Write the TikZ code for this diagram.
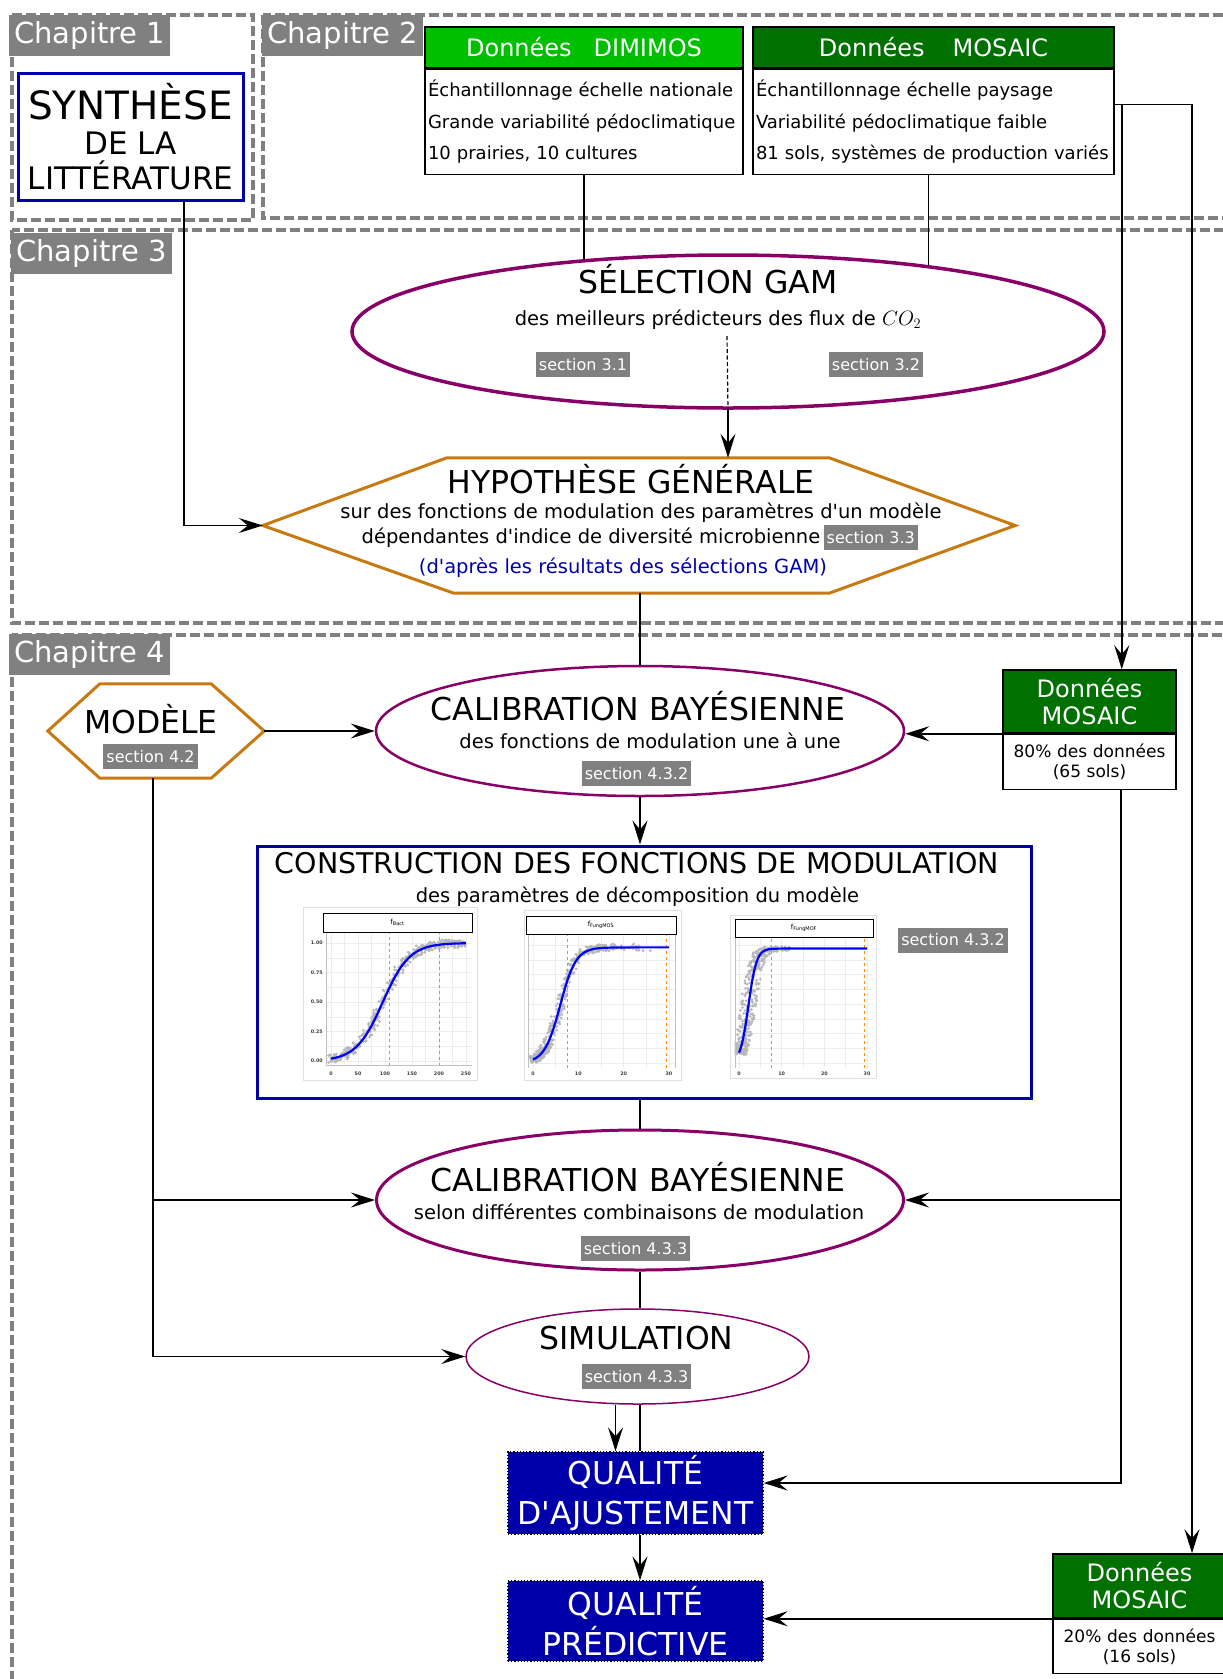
\documentclass[tikz,border=0pt]{standalone}
\usepackage{fontspec}
\setmainfont{DejaVu Sans}
\usepackage{tikz}
\usetikzlibrary{arrows.meta,positioning,shapes.geometric,calc,backgrounds}
\definecolor{cChap}{HTML}{808080}
\definecolor{cPurple}{HTML}{880066}
\definecolor{cHexa}{HTML}{C87A12}
\definecolor{cNavy}{HTML}{0000AA}
\definecolor{cGreenL}{HTML}{00BE00}
\definecolor{cGreenD}{HTML}{007000}
\definecolor{cCurve}{HTML}{0000FF}
\definecolor{cOrange}{HTML}{FF8C00}
\definecolor{cPoint}{HTML}{B8B8B8}
\newcommand{\fTitle}{\fontsize{31.5}{38}\selectfont}
\newcommand{\fBody}{\fontsize{19.5}{24}\selectfont}
\newcommand{\fData}{\fontsize{18}{31.5}\selectfont}
\newcommand{\fHead}{\fontsize{24}{27}\selectfont}
\newcommand{\fSec}{\fontsize{16}{19}\selectfont}
\newcommand{\fTick}{\fontsize{4.8}{5}\selectfont\bfseries}
\newcommand{\ap}{\textquotesingle}
\tikzset{
  chapframe/.style={draw=cChap, line width=4pt, dash pattern=on 10pt off 4pt},
  chaplab/.style ={fill=cChap, text=white, anchor=north west, font=\fontsize{29}{34}\selectfont,
                   inner xsep=5pt, minimum height=41pt},
  seclab/.style  ={fill=cChap, text=white, font=\fSec, inner xsep=3pt, inner ysep=0pt, minimum height=25pt},
  txt/.style     ={anchor=base, inner sep=0pt},
  ell/.style     ={draw=cPurple, ellipse, fill=white},
  hexline/.style ={draw=cHexa, line width=3pt, line join=miter},
  bluebox/.style ={draw=cNavy, line width=3pt, fill=white},
  datahead/.style={draw, line width=1.5pt, text=white, font=\fHead, minimum height=41pt, inner sep=0pt},
  databody/.style={draw, line width=1.5pt, fill=white, font=\fData, align=left, inner xsep=3pt,
                   inner ysep=0pt, minimum height=105pt},
  quality/.style ={draw, dotted, line width=1.2pt, fill=cNavy, text=white, align=center,
                   font=\fontsize{31.5}{40}\selectfont, minimum width=255pt, minimum height=80pt},
  conn/.style    ={line width=1.5pt},
  arrow/.style   ={-{Stealth[length=24pt,width=15pt,inset=9pt]}, line width=1.5pt},
  panel/.style   ={fill=white, draw=black!12, line width=0.6pt},
  strip/.style   ={draw, line width=0.8pt, fill=white, inner sep=0pt, font=\fontsize{7}{8}\selectfont},
  orangedash/.style={draw=cOrange, dashed, line width=0.9pt},
  gridl/.style   ={draw=black!7, line width=0.4pt},
  tick/.style    ={font=\fTick, text=black!75, inner sep=0pt},
}
\begin{document}
\begin{tikzpicture}[x=1pt, y=-1pt]
  \useasboundingbox (0,0) rectangle (1223,1679);
  % chapter labels
  \node[chaplab] (chap1) at (9,15) {Chapitre 1};
  \node[chaplab] (chap2) at (262,15) {Chapitre 2};
  \node[chaplab] (chap3) at (11,233) {Chapitre 3};
  \node[chaplab] (chap4) at (9,634) {Chapitre 4};
  % chapitre 1 et 2
  \node[bluebox, minimum width=225pt, minimum height=127pt, align=center,
        font=\fontsize{31}{35}\selectfont] (synth) at (130.5,136.5)
        {{\fontsize{39}{35}\selectfont SYNTHÈSE}\\DE LA\\LITTÉRATURE};
  \node[datahead, fill=cGreenL, minimum width=318pt] (dimh) at (584,47.5) {Données\hspace{22pt}DIMIMOS};
  \node[databody, text width=312pt, below=0pt of dimh] (dimimos)
        {Échantillonnage échelle nationale\\Grande variabilité pédoclimatique\\10 prairies, 10 cultures};
  \node[datahead, fill=cGreenD, minimum width=361pt] (mosh) at (933.5,47.5)
        {Données\hspace{28pt}MOSAIC\hspace{26pt}};
  \node[databody, text width=355pt, below=0pt of mosh] (mosaic)
        {Échantillonnage échelle paysage\\Variabilité pédoclimatique faible\\81 sols, systèmes de production variés};
  % chapitre 3
  \node[ell, line width=3.5pt, minimum width=752pt, minimum height=153pt] (gam) at (728,331.5) {};
  \node[txt, font=\fTitle] (gamtitle) at (708,293) {SÉLECTION GAM};
  \node[txt, font=\fBody] (gamtext) at (718,325) {des meilleurs prédicteurs des flux de $CO_2$};
  \node[seclab] (sec31) at (583,364.5) {section 3.1};
  \node[seclab] (sec32) at (876,364.5) {section 3.2};
  \coordinate (gamcut) at (727,336);
  \node[minimum width=752pt, minimum height=135pt] (hyp) at (639,525.5) {};
  \draw[hexline] (hyp.west) -- ([xshift=184pt]hyp.north west) -- ([xshift=-186pt]hyp.north east)
        -- (hyp.east) -- ([xshift=-186pt]hyp.south east) -- ([xshift=191pt]hyp.south west) -- cycle;
  \node[txt, font=\fTitle] (hyptitle) at (631,493) {HYPOTHÈSE GÉNÉRALE};
  \node[txt, font=\fBody] (hypl1) at (641,518) {sur des fonctions de modulation des paramètres d\ap un modèle};
  \node[txt, font=\fBody] (hypl2) at (591,543) {dépendantes d\ap indice de diversité microbienne};
  \node[seclab, right=3pt of hypl2] (sec33) {section 3.3};
  \node[txt, font=\fBody, text=cNavy] (hypl3) at (623,573) {(d\ap après les résultats des sélections GAM)};
  % chapitre 4
  \node[minimum width=216pt, minimum height=94pt] (model) at (156,731) {};
  \draw[hexline] (model.west) -- ([xshift=52pt]model.north west) -- ([xshift=-53pt]model.north east)
        -- (model.east) -- ([xshift=-53pt]model.south east) -- ([xshift=52pt]model.south west) -- cycle;
  \node[txt, font=\fTitle] (modeltitle) at (151,733) {MODÈLE};
  \node[seclab] (sec42) at (150.5,756.5) {section 4.2};
  \node[ell, line width=2.5pt, minimum width=528pt, minimum height=130pt] (cal1) at (640,731) {};
  \node[txt, font=\fTitle] (cal1title) at (638,720) {CALIBRATION BAYÉSIENNE};
  \node[txt, font=\fBody] (cal1text) at (650,748) {des fonctions de modulation une à une};
  \node[seclab] (sec432a) at (636.5,773.5) {section 4.3.2};
  \node[datahead, fill=cGreenD, minimum width=173pt, minimum height=63pt, align=center] (d80h)
        at (1089.5,701.5) {Données\\MOSAIC};
  \node[databody, text width=167pt, minimum height=55pt, align=center, font=\fontsize{17}{20}\selectfont,
        below=0pt of d80h] (d80) {80\% des données\\(65 sols)};
  \node[bluebox, minimum width=774pt, minimum height=252pt] (constr) at (644,972) {};
  \node[txt, font=\fontsize{28.5}{34}\selectfont] (constrtitle) at (637,873) {CONSTRUCTION DES FONCTIONS DE MODULATION};
  \node[txt, font=\fBody] (constrtext) at (637.5,902) {des paramètres de décomposition du modèle};
  \node[seclab] (sec432b) at (953,940) {section 4.3.2};
  % plot f_Bact
  \draw[panel] (303,907) rectangle (477,1080);
  \begin{scope}[shift={(331,1061)}, x=0.54pt, y=118pt]
    \clip (-9,-0.04) rectangle (261,1.09);
    \foreach \g in {0,25,...,250} \draw[gridl] (\g,-0.04) -- (\g,1.09);
    \foreach \g in {0,0.125,...,1} \draw[gridl] (-9,\g) -- (261,\g);
    \pgfmathsetseed{11}
    \foreach \i in {1,...,420}{
      \pgfmathsetmacro{\ptx}{rnd*245}
      \pgfmathsetmacro{\pty}{1/(1+exp(-(\ptx-96)/24.7))+0.07*(rnd-0.5)}
      \fill[cPoint] (\ptx+16*rnd-8,\pty) circle (1.5pt);
    }
    \draw[orangedash] (108,-0.04) -- (108,1.09);
    \draw[orangedash] (200,-0.04) -- (200,1.09);
    \draw[cCurve, line width=2.2pt] plot[domain=0:250, samples=80] (\x,{1/(1+exp(-(\x-96)/24.7))});
    \draw[black!25, line width=0.6pt] (-9,-0.04) rectangle (261,1.09);
  \end{scope}
  \begin{scope}[shift={(331,1061)}, x=0.54pt, y=118pt]
    \foreach \g [count=\k] in {0,50,100,150,200,250} \node[tick] (p1x\k) at (\g,-0.11) {\g};
    \foreach \g/\t [count=\k] in {0/0.00,0.25/0.25,0.5/0.50,0.75/0.75,1/1.00}
      \node[tick, anchor=east] (p1y\k) at (-15,\g) {\t};
  \end{scope}
  \node[strip, minimum width=149pt, minimum height=19pt] (strip1) at (397.5,922.5) {f\textsubscript{Bact}};
  % plot f_FungMOS
  \draw[panel] (524,910) rectangle (681,1080);
  \begin{scope}[shift={(533,1063)}, x=4.533pt, y=118pt]
    \clip (-1.1,-0.042) rectangle (31.5,1.093);
    \foreach \g in {0,5,...,30} \draw[gridl] (\g,-0.042) -- (\g,1.093);
    \foreach \g in {0,0.125,...,1} \draw[gridl] (-1.1,\g) -- (31.5,\g);
    \pgfmathsetseed{23}
    \foreach \i in {1,...,420}{
      \pgfmathsetmacro{\ptx}{rnd*rnd*27}
      \pgfmathsetmacro{\pty}{0.98/(1+exp(-(\ptx-6)/1.73))+0.06*(rnd-0.5)}
      \fill[cPoint] (\ptx+2.2*rnd-1.1,\pty) circle (1.5pt);
    }
    \draw[orangedash] (7.5,-0.042) -- (7.5,1.093);
    \draw[orangedash] (29.5,-0.042) -- (29.5,1.093);
    \draw[cCurve, line width=2.2pt] plot[domain=0:30, samples=80] (\x,{0.98/(1+exp(-(\x-6)/1.73))});
    \draw[black!25, line width=0.6pt] (-1.1,-0.042) rectangle (31.5,1.093);
  \end{scope}
  \begin{scope}[shift={(533,1063)}, x=4.533pt, y=118pt]
    \foreach \g [count=\k] in {0,10,20,30} \node[tick] (p2x\k) at (\g,-0.095) {\g};
  \end{scope}
  \node[strip, minimum width=150pt, minimum height=18pt] (strip2) at (601,925) {f\textsubscript{FungMOS}};
  % plot f_FungMOF
  \draw[panel] (730,915) rectangle (876,1078);
  \begin{scope}[shift={(739,1063)}, x=4.267pt, y=118pt]
    \clip (-0.94,-0.042) rectangle (31.4,1.068);
    \foreach \g in {0,5,...,30} \draw[gridl] (\g,-0.042) -- (\g,1.068);
    \foreach \g in {0,0.125,...,1} \draw[gridl] (-0.94,\g) -- (31.4,\g);
    \pgfmathsetseed{5}
    \foreach \i in {1,...,420}{
      \pgfmathsetmacro{\ptx}{rnd*rnd*12}
      \pgfmathsetmacro{\pty}{0.97/(1+exp(-(\ptx-2.2)/0.95))+0.04*(rnd-0.5)}
      \fill[cPoint] (\ptx+3.6*rnd-1.8,\pty) circle (1.5pt);
    }
    \draw[orangedash] (7.5,-0.042) -- (7.5,1.068);
    \draw[orangedash] (29.5,-0.042) -- (29.5,1.068);
    \draw[cCurve, line width=2.2pt] plot[domain=0:30, samples=120] (\x,{0.97/(1+exp(-(\x-2.2)/0.95))});
    \draw[black!25, line width=0.6pt] (-0.94,-0.042) rectangle (31.4,1.068);
  \end{scope}
  \begin{scope}[shift={(739,1063)}, x=4.267pt, y=118pt]
    \foreach \g [count=\k] in {0,10,20,30} \node[tick] (p3x\k) at (\g,-0.095) {\g};
  \end{scope}
  \node[strip, minimum width=138pt, minimum height=18pt] (strip3) at (804,928) {f\textsubscript{FungMOF}};
  % calibration 2, simulation, qualite
  \node[ell, line width=3pt, minimum width=527pt, minimum height=140pt] (cal2) at (640,1200) {};
  \node[txt, font=\fTitle] (cal2title) at (638,1191) {CALIBRATION BAYÉSIENNE};
  \node[txt, font=\fBody] (cal2text) at (639,1219) {selon différentes combinaisons de modulation};
  \node[seclab] (sec433a) at (635.5,1248.5) {section 4.3.3};
  \node[ell, line width=1.5pt, minimum width=343pt, minimum height=95pt] (sim) at (637.5,1356.5) {};
  \node[txt, font=\fTitle] (simtitle) at (636.5,1349) {SIMULATION};
  \node[seclab] (sec433b) at (636.5,1376.5) {section 4.3.3};
  \node[quality] (qa) at (635.5,1493) {QUALITÉ\\D\ap AJUSTEMENT};
  \node[quality] (qp) at (635.5,1621) {QUALITÉ\\PRÉDICTIVE};
  \node[datahead, fill=cGreenD, minimum width=173pt, minimum height=64pt, align=center] (d20h)
        at (1139.5,1586) {Données\\MOSAIC};
  \node[databody, text width=167pt, minimum height=54pt, align=center, font=\fontsize{17}{20}\selectfont,
        below=0pt of d20h] (d20) {20\% des données\\(16 sols)};
  % frames and lines under the nodes
  \coordinate (mosout) at ([xshift=-5pt]mosaic.south);
  \begin{scope}[on background layer]
    \draw[chapframe] (12,15) rectangle (253,220);
    \draw[chapframe] (263,15) rectangle (1240,218);
    \draw[chapframe] (12,230) rectangle (1240,623);
    \draw[chapframe] (12,635) rectangle (1240,1720);
    \draw[conn] (dimimos.south) -- (dimimos.south |- gam.center);
    \draw[conn] (mosout) -- (mosout |- gam.center);
  \end{scope}
  % connectors
  \draw[arrow] ($(synth.south)+(53.5,0)$) |- (hyp.west);
  \draw[conn, dash pattern=on 4pt off 2.5pt, line width=1.2pt] (gamcut) -- (gam.south);
  \draw[arrow] (gam.south) -- (gam.south |- hyp.north);
  \draw[conn] (cal1.north |- hyp.south) -- (cal1.north);
  \coordinate (mosj) at ($(mosaic.east)+(7,-17.5)$);
  \draw[arrow] ($(mosaic.east)+(0,-17.5)$) -| ($(d20h.north)+(52.5,0)$);
  \draw[arrow] (mosj) -- (mosj |- d80h.north);
  \draw[arrow] (d80.north west) -- (d80.north west -| cal1.east);
  \coordinate (rj) at ($(d80.south)+(31.5,0)$);
  \draw[arrow] (rj) |- ($(qa.east)+(0,-10)$);
  \draw[arrow] (rj |- cal2.east) -- (cal2.east);
  \coordinate (mj) at ([xshift=-3pt]model.south);
  \draw[arrow] (model.east) -- (cal1.west);
  \draw[arrow] (mj) |- (sim.west);
  \draw[arrow] (mj |- cal2.west) -- (cal2.west);
  \draw[arrow] (cal1.south) -- (cal1.south |- constr.north);
  \draw[conn] (cal2.north |- constr.south) -- (cal2.north);
  \draw[conn] (cal2.south) -- (cal2.south |- sim.north);
  \draw[conn] (cal2.south |- sim.south) -- (cal2.south |- qa.north);
  \draw[arrow] ($(sim.south)+(-22,0)$) -- ($(qa.north)+(-20,0)$);
  \draw[arrow] (cal2.south |- qa.south) -- (cal2.south |- qp.north);
  \draw[arrow] (d20.north west) -- (d20.north west -| qp.east);
\end{tikzpicture}
\end{document}
